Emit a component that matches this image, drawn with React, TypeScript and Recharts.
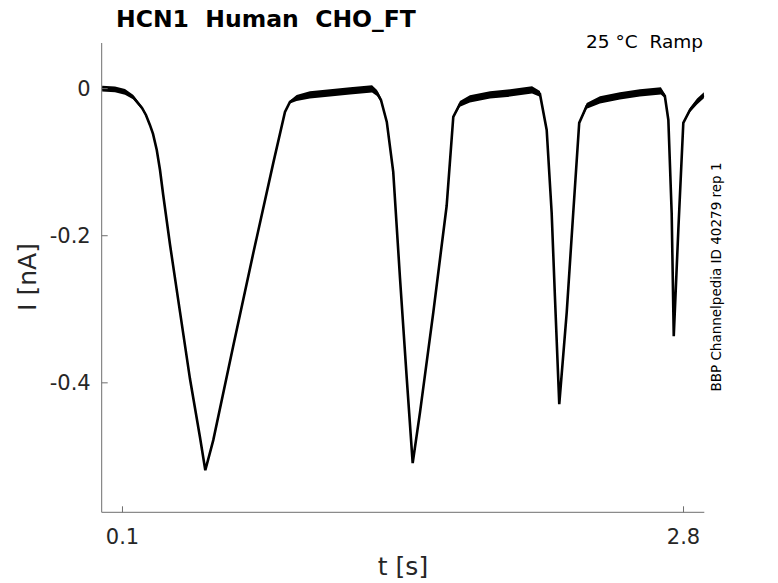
import React from "react";
import { ComposedChart, Line, Area, XAxis, YAxis } from "recharts";

// ramp trace (t in s, I in nA)
const timeS = [
  0.002, 0.064, 0.112, 0.151, 0.194, 0.213, 0.232, 0.247, 0.265, 0.2806, 0.296, 0.329, 0.377, 0.425, 0.473, 0.4986,
  0.537, 0.633, 0.7296, 0.8258, 0.882, 0.906, 0.938, 1.002, 1.099, 1.195, 1.301,
  1.325, 1.344, 1.372, 1.403, 1.4355, 1.468, 1.4966, 1.532, 1.596, 1.66, 1.692,
  1.724, 1.772, 1.869, 1.965, 2.071, 2.109, 2.1415, 2.1655, 2.181, 2.202, 2.238,
  2.2695, 2.298, 2.334, 2.398, 2.494, 2.59, 2.691, 2.71, 2.727, 2.743, 2.753,
  2.775, 2.799, 2.831, 2.865, 2.898,
];
const currentNA = [
  0.0, -0.001, -0.0045, -0.0113, -0.0263, -0.0358, -0.0494, -0.0616, -0.0834, -0.1106, -0.1446, -0.2126, -0.3038, -0.3949, -0.4739, -0.5188,
  -0.4779, -0.35, -0.2235, -0.101, -0.0317, -0.0181, -0.0127, -0.0086, -0.0059, -0.0031, -0.0004,
  -0.0059, -0.0154, -0.0453, -0.1133, -0.2575, -0.3936, -0.5092, -0.4398, -0.3038, -0.1596, -0.0385,
  -0.0208, -0.014, -0.0086, -0.0059, -0.0018, -0.0072, -0.0562, -0.1691, -0.282, -0.4289, -0.3038,
  -0.1678, -0.0466, -0.0235, -0.0154, -0.0099, -0.0059, -0.0031, -0.0099, -0.0426, -0.1691, -0.3365,
  -0.1922, -0.0466, -0.029, -0.0175, -0.009,
];
// half-width of the noise band around the trace
const noiseNA = [
  0.004, 0.004, 0.004, 0.003, 0.002, 0.002, 0.001, 0.001, 0, 0, 0, 0, 0, 0, 0, 0,
  0, 0, 0, 0, 0, 0.002, 0.004, 0.005, 0.005, 0.005, 0.005,
  0.004, 0.003, 0.001, 0, 0, 0, 0, 0, 0, 0, 0.001,
  0.004, 0.005, 0.005, 0.005, 0.005, 0.004, 0.001, 0, 0, 0, 0,
  0, 0.001, 0.004, 0.005, 0.005, 0.005, 0.005, 0.003, 0.001, 0, 0,
  0, 0.001, 0.003, 0.004, 0.004,
];

const xTicks = [0.1, 2.8];
const yTicks = [0, -0.2, -0.4];

const AXIS = "#6e6e6e";
const TEXT = "#262626";
const FONT = "DejaVu Sans";

const points = timeS.map((t, i) => ({
  t,
  i: currentNA[i],
  band: [currentNA[i] - noiseNA[i], currentNA[i] + noiseNA[i]],
}));

const YTick = ({ x, y, payload }: any) => (
  <g>
    <line x1={x} x2={x + 6} y1={y} y2={y} stroke={AXIS} />
    <text x={x - 11} y={y} dy="0.36em" textAnchor="end" fill={TEXT} fontFamily={FONT} fontSize={21}>
      {String(payload.value)}
    </text>
  </g>
);

const XTick = ({ x, y, payload }: any) => (
  <g>
    <line x1={x} x2={x} y1={y} y2={y - 6} stroke={AXIS} />
    <text x={x} y={y + 32} textAnchor="middle" fill={TEXT} fontFamily={FONT} fontSize={21}>
      {String(payload.value)}
    </text>
  </g>
);

const App: React.FC = () => {
  return (
    <div style={{ position: "absolute", left: 0, top: 0, width: 778, height: 583, background: "#fff" }}>
      <ComposedChart
        width={778}
        height={583}
        data={points}
        margin={{ top: 43, right: 73.7, left: 0, bottom: 0 }}
      >
        <XAxis
          dataKey="t"
          type="number"
          domain={[0, 2.9]}
          ticks={xTicks}
          allowDataOverflow
          height={70.7}
          tickSize={0}
          tickMargin={0}
          tick={<XTick />}
          axisLine={{ stroke: AXIS }}
          tickLine={false}
        />
        <YAxis
          type="number"
          domain={[-0.576, 0.062]}
          ticks={yTicks}
          allowDataOverflow
          width={101.7}
          tickSize={0}
          tickMargin={0}
          tick={<YTick />}
          axisLine={{ stroke: AXIS }}
          tickLine={false}
        />
        <Area
          dataKey="band"
          type="linear"
          stroke="none"
          fill="#000"
          fillOpacity={1}
          isAnimationActive={false}
          activeDot={false}
        />
        <Line
          dataKey="i"
          type="linear"
          stroke="#000"
          strokeWidth={2.6}
          dot={false}
          activeDot={false}
          isAnimationActive={false}
        />
      </ComposedChart>
      <svg
        width={778}
        height={583}
        style={{ position: "absolute", left: 0, top: 0, pointerEvents: "none" }}
        fontFamily={FONT}
      >
        <text x={116} y={26.7} fontSize={23.5} fontWeight="bold" fill="#000" style={{ whiteSpace: "pre" }}>
          {"HCN1  Human  CHO_FT"}
        </text>
        <text x={703} y={48} fontSize={18.5} textAnchor="end" fill="#000" style={{ whiteSpace: "pre" }}>
          {"25 °C  Ramp"}
        </text>
        <text x={403} y={575} fontSize={25} textAnchor="middle" fill={TEXT}>
          t [s]
        </text>
        <text transform="translate(36, 277) rotate(-90)" fontSize={25} textAnchor="middle" fill={TEXT}>
          I [nA]
        </text>
        <text transform="translate(721, 277) rotate(-90)" fontSize={13.5} textAnchor="middle" fill="#000">
          BBP Channelpedia ID 40279 rep 1
        </text>
      </svg>
    </div>
  );
};

export default App;
